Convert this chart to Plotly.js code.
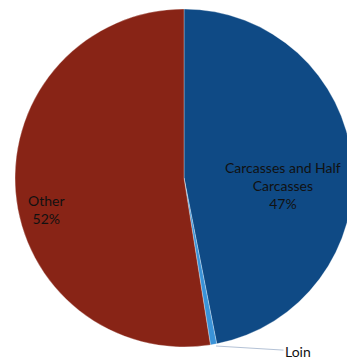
<!DOCTYPE html>
<html>
<head>
<meta charset="utf-8">
<script src="https://cdn.plot.ly/plotly-3.0.1.min.js"></script>
<style>
html,body{margin:0;padding:0;overflow:hidden;background:#fff;width:347px;height:360px;}
#chart{width:360px;height:360px;}
</style>
</head>
<body>
<div id="chart"></div>
<script>
var categories = ["Carcasses and Half Carcasses", "Loin", "Other"];
var shares = [46.9, 0.6, 52.5];
var shareLabels = ["47%", "", "52%"];
var colors = ["#0f4a85", "#3a93d8", "#882416"];

var W = 360, H = 360;
function px(x){ return x / W; }
function py(y){ return (H - y) / H; }

var trace = {
  type: "pie",
  labels: categories,
  values: shares,
  sort: false,
  direction: "clockwise",
  rotation: 0,
  marker: {colors: colors, line: {color: "#ffffff", width: 0.3}},
  textinfo: "none",
  hoverinfo: "label+percent",
  showlegend: false,
  domain: {x: [px(15), px(353)], y: [py(347), py(9)]}
};

var font = {family: "Lato, 'Open Sans', sans-serif", size: 14, color: "#111111"};

var layout = {
  width: W, height: H,
  margin: {l: 0, r: 0, t: 0, b: 0},
  paper_bgcolor: "#ffffff",
  showlegend: false,
  annotations: [
    {text: "Carcasses and Half<br>Carcasses<br>" + shareLabels[0], x: px(283), y: py(186), xref: "paper", yref: "paper",
     showarrow: false, font: font, align: "center", xanchor: "center", yanchor: "middle"},
    {text: categories[2] + "<br>" + shareLabels[2], x: px(46), y: py(210), xref: "paper", yref: "paper",
     showarrow: false, font: font, align: "center", xanchor: "center", yanchor: "middle"},
    {text: categories[1], x: px(216), y: py(346), xref: "paper", yref: "paper",
     showarrow: true, arrowhead: 0, arrowwidth: 1, arrowcolor: "#b4c2d6",
     ax: 82, ay: 5, font: font, xanchor: "center", yanchor: "middle"}
  ]
};

Plotly.newPlot("chart", [trace], layout, {displayModeBar: false, staticPlot: true});
</script>
</body>
</html>
